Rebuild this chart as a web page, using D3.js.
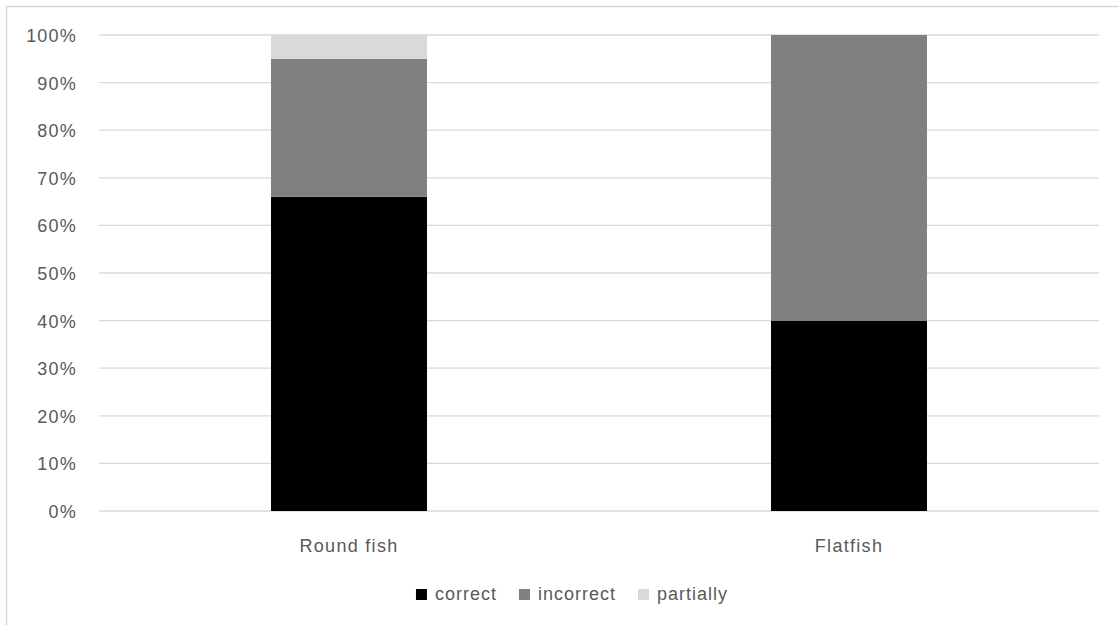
<!DOCTYPE html>
<html>
<head>
<meta charset="utf-8">
<script src="https://cdn.jsdelivr.net/npm/d3@7"></script>
<style>
  html, body { margin: 0; padding: 0; background: #fff; }
  svg { display: block; }
  text { font-family: "Liberation Sans", "DejaVu Sans", sans-serif; fill: #595959; }
</style>
</head>
<body>
<svg id="chart" width="1119" height="625"></svg>
<script>
// Share of answers per fish type (percent)
const categories = ["Round fish", "Flatfish"];
const seriesNames = ["correct", "incorrect", "partially"];
const correct = [66, 40];
const incorrect = [29, 60];
const partially = [5, 0];
const yTicks = [0, 10, 20, 30, 40, 50, 60, 70, 80, 90, 100];
const seriesColors = ["#000000", "#808080", "#d9d9d9"];

const rows = categories.map((c, i) => ({
  category: c,
  correct: correct[i],
  incorrect: incorrect[i],
  partially: partially[i]
}));

const svg = d3.select("#chart");
const W = 1119, H = 625;
const plot = { left: 99, right: 1099, top: 35, bottom: 511 };
const fontFamily = '"Liberation Sans", "DejaVu Sans", sans-serif';

// outer chart frame
svg.append("rect")
  .attr("x", 6.5).attr("y", 6.5)
  .attr("width", W + 20).attr("height", H + 20)
  .attr("fill", "none").attr("stroke", "#d9d9d9").attr("stroke-width", 1.5);

const x = d3.scaleBand().domain(categories)
  .range([plot.left, plot.right]).paddingInner(0.688).paddingOuter(0.344);
const y = d3.scaleLinear().domain([0, 100]).range([plot.bottom, plot.top]);

// horizontal gridlines
svg.append("g").selectAll("line").data(yTicks).join("line")
  .attr("x1", plot.left).attr("x2", plot.right)
  .attr("y1", d => y(d)).attr("y2", d => y(d))
  .attr("stroke", "#d9d9d9").attr("stroke-width", 1.3);

// y axis labels
const yAxis = d3.axisLeft(y).tickValues(yTicks).tickFormat(d => d + "%").tickSize(0).tickPadding(0);
const yg = svg.append("g").attr("transform", `translate(${plot.left - 22},0)`).call(yAxis);
yg.select(".domain").remove();
yg.selectAll("text")
  .style("font-family", fontFamily)
  .style("font-size", "18px").style("letter-spacing", "1.2px")
  .attr("fill", "#595959").attr("dy", "0.36em");

// stacked bars
const stack = d3.stack().keys(seriesNames);
const layers = stack(rows);
const color = d3.scaleOrdinal().domain(seriesNames).range(seriesColors);

svg.append("g").selectAll("g").data(layers).join("g")
  .attr("fill", d => color(d.key))
  .selectAll("rect").data(d => d.filter(s => s[1] - s[0] > 0)).join("rect")
  .attr("x", d => x(d.data.category))
  .attr("width", x.bandwidth())
  .attr("y", d => y(d[1]))
  .attr("height", d => y(d[0]) - y(d[1]));

// category labels
const xAxis = d3.axisBottom(x).tickSize(0).tickPadding(0);
const xg = svg.append("g").attr("transform", `translate(0,${plot.bottom + 28})`).call(xAxis);
xg.select(".domain").remove();
xg.selectAll("text")
  .style("font-family", fontFamily)
  .style("font-size", "18px").style("letter-spacing", "1.3px")
  .attr("fill", "#595959").attr("dy", "0.71em");

// legend
const legend = svg.append("g");
const items = legend.selectAll("g").data(seriesNames).join("g");
items.append("rect").attr("width", 11).attr("height", 11).attr("y", -11)
  .attr("fill", d => color(d));
items.append("text").attr("x", 19).attr("y", 0)
  .style("font-size", "18px").style("letter-spacing", "1px")
  .text(d => d);
let offset = 0;
items.each(function() {
  const g = d3.select(this);
  g.attr("transform", `translate(${offset},${600})`);
  offset += 19 + g.select("text").node().getComputedTextLength() + 22;
});
const legendWidth = offset - 22;
legend.attr("transform", `translate(${572 - legendWidth / 2},0)`);
</script>
</body>
</html>
